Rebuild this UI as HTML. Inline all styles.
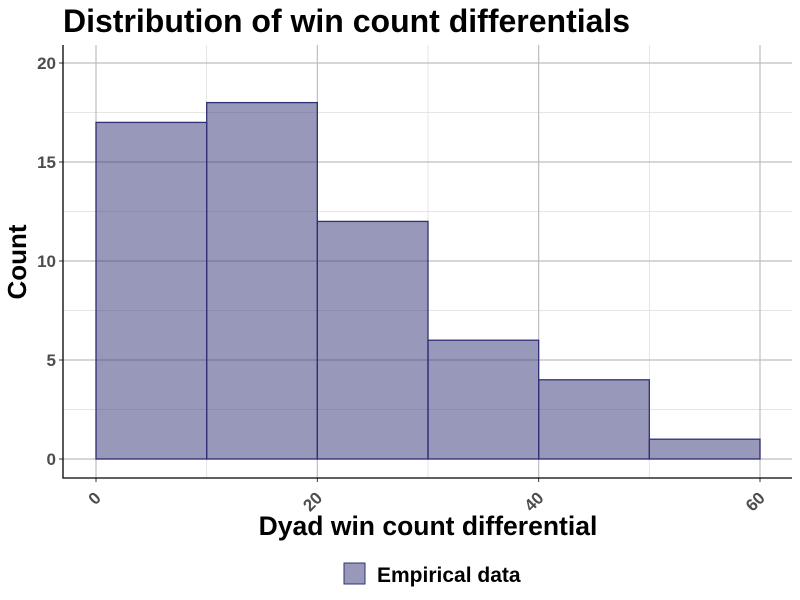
<!DOCTYPE html>
<html><head><meta charset="utf-8"><style>body{margin:0;background:#fff}svg{display:block;font-family:"Liberation Sans",sans-serif}</style></head>
<body>
<svg id="c" width="800" height="600">
<text x="63" y="32" font-size="32" font-weight="bold" fill="#000">Distribution of win count differentials</text>
<g id="grid"></g><g id="bars"></g><g id="axes"></g>
<text x="428" y="535" font-size="26.5" font-weight="bold" text-anchor="middle">Dyad win count differential</text>
<text transform="translate(26,262) rotate(-90)" font-size="26" font-weight="bold" text-anchor="middle">Count</text>
<g>
<rect x="344" y="563" width="21" height="21" fill="rgba(49,49,118,0.5)" stroke="#313176" stroke-width="1"/>
<text x="377" y="582" font-size="21" font-weight="bold">Empirical data</text>
</g>
</svg>
<script>
const binStarts=[0,10,20,30,40,50];
const binWidth=10;
const counts=[17,18,12,6,4,1];
const xTicks=[0,20,40,60];
const xMinor=[10,30,50];
const yTicks=[0,5,10,15,20];
const yMinor=[2.5,7.5,12.5,17.5];
const NS="http://www.w3.org/2000/svg";
const X=v=>96+v*(760-96)/60, Y=v=>459-v*(459-63)/20;
const L=63,R=792,T=45,B=478;
function mk(tag,a,p){const e=document.createElementNS(NS,tag);for(const k in a)e.setAttribute(k,a[k]);document.getElementById(p).appendChild(e);return e;}
yMinor.forEach(v=>{const e=mk('line',{x1:L,x2:R,y1:Y(v),y2:Y(v),stroke:'#dedede','stroke-width':0.8},'grid');

});
xMinor.forEach(v=>{const e=mk('line',{x1:X(v),x2:X(v),y1:T,y2:B,stroke:'#dedede','stroke-width':0.8},'grid');

});
yTicks.forEach(v=>{const e=mk('line',{x1:L,x2:R,y1:Y(v),y2:Y(v),stroke:'#bdbdbd','stroke-width':1.2},'grid');


const t=mk('text',{x:L-7,y:Y(v)+6,'font-size':17,'font-weight':'bold','text-anchor':'end',fill:'#4d4d4d'},'axes');t.textContent=v;


mk('line',{x1:L-4,x2:L,y1:Y(v),y2:Y(v),stroke:'#333'},'axes');});
xTicks.forEach(v=>{const e=mk('line',{x1:X(v),x2:X(v),y1:T,y2:B,stroke:'#bdbdbd','stroke-width':1.2},'grid');


mk('line',{x1:X(v),x2:X(v),y1:B,y2:B+4,stroke:'#333'},'axes');
const t=mk('text',{x:X(v)+6,y:B+21,'font-size':17,'font-weight':'bold','text-anchor':'end',fill:'#4d4d4d',transform:`rotate(-45 ${X(v)+6} ${B+21})`},'axes');t.textContent=v;

});
counts.forEach((c,i)=>{const b=mk('rect',{x:X(binStarts[i]),y:Y(c),width:X(binStarts[i]+binWidth)-X(binStarts[i]),height:Y(0)-Y(c),fill:'rgba(49,49,118,0.5)',stroke:'#313176','stroke-width':1.3},'bars');

});
const ax=mk('path',{d:`M${L},${T} V${B} H${R}`,fill:'none',stroke:'#000','stroke-width':1.3},'axes');


</script>
</body></html>
